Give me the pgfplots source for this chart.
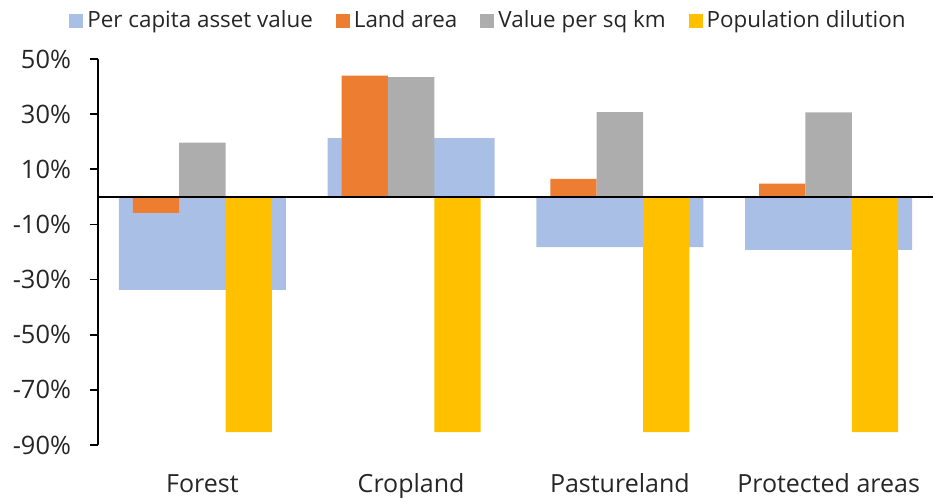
\documentclass[border=0pt]{standalone}
\usepackage{pgfplots}
\pgfplotsset{compat=1.18}
\usepackage{fontspec}
\setmainfont{Open Sans}
\definecolor{capblue}{HTML}{A9BFE5}
\definecolor{landorange}{HTML}{ED7D31}
\definecolor{sqgray}{HTML}{ADADAD}
\definecolor{popyellow}{HTML}{FFC000}
\definecolor{txt}{HTML}{262626}

\begin{document}
\begin{tikzpicture}
  \begin{axis}[
      width=417.5pt, height=193pt, scale only axis,
      xmin=-0.5, xmax=3.5,
      ymin=-90, ymax=50,
      ybar,
      clip=false,
      axis y line*=left,
      axis x line*=bottom,
      x axis line style={draw=none},
      y axis line style={black, line width=0.8pt},
      xtick={0,1,2,3},
      xticklabels={Forest,Cropland,Pastureland,Protected areas},
      xtick style={draw=none},
      xticklabel style={yshift=-8.5pt, text=txt, text height=0.75em, text depth=0.22em,
        font=\fontsize{12.5}{15}\selectfont},
      ytick={-90,-70,...,50},
      yticklabel={\pgfmathprintnumber{\tick}\%},
      /pgf/number format/assume math mode=true,
      yticklabel style={text=txt, xshift=-6pt, font=\fontsize{12.7}{15}\selectfont},
      tick align=outside,
      major tick length=4pt,
      ytick style={black, line width=0.8pt},
      legend columns=4,
      legend image code/.code={\fill[#1] (0pt,-3.5pt) rectangle (7pt,3.5pt);},
      legend style={draw=none, fill=none, inner sep=0pt,
        at={(axis description cs:0,1)}, anchor=west,
        xshift=-14.5pt, yshift=19pt, text=txt,
        font=\fontsize{11.2}{13}\selectfont,
        /tikz/every even column/.append style={column sep=9.5pt}},
      legend cell align=left,
    ]
    % wide background series
    \addplot[fill=capblue, draw=none, bar width=0.8, bar shift=0]
      coordinates {(0,-33.7) (1,21.3) (2,-18.2) (3,-19.2)};
    \addplot[fill=landorange, draw=none, bar width=0.2222, bar shift=-0.2222]
      coordinates {(0,-5.8) (1,44.0) (2,6.5) (3,4.8)};
    \addplot[fill=sqgray, draw=none, bar width=0.2222, bar shift=0]
      coordinates {(0,19.7) (1,43.4) (2,30.7) (3,30.6)};
    \addplot[fill=popyellow, draw=none, bar width=0.2222, bar shift=0.2222]
      coordinates {(0,-85.3) (1,-85.3) (2,-85.3) (3,-85.3)};
    \legend{Per capita asset value, Land area, Value per sq km, Population dilution}
    \draw[black, line width=1pt] (axis cs:-0.5,0) -- (axis cs:3.5,0);
    \path (rel axis cs:0,0) ++(-49pt,-27pt);
    \path (rel axis cs:1,1) ++(8pt,29.5pt);
  \end{axis}
\end{tikzpicture}
\end{document}
